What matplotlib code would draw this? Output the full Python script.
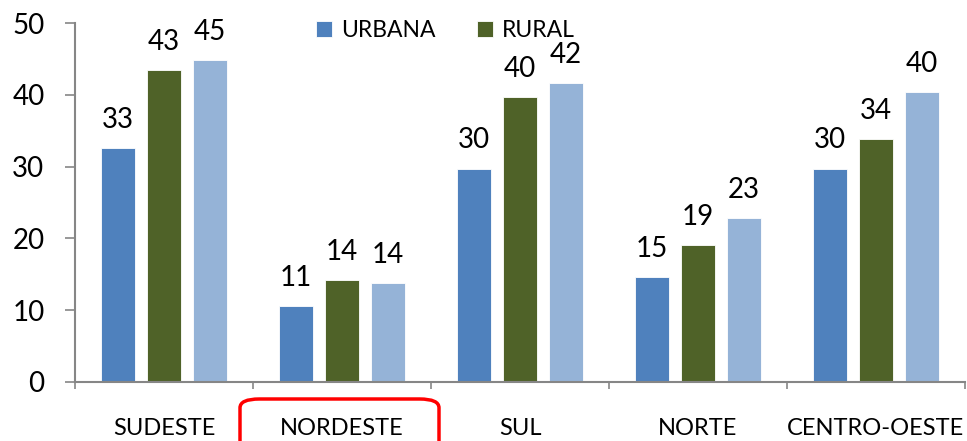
import numpy as np
import matplotlib.pyplot as plt
from matplotlib.patches import FancyBboxPatch

# Dados
regioes = ['SUDESTE', 'NORDESTE', 'SUL', 'NORTE', 'CENTRO-OESTE']
urbana = [32.6, 10.6, 29.7, 14.6, 29.7]
rural = [43.4, 14.2, 39.7, 19.1, 33.8]
total = [44.8, 13.8, 41.6, 22.8, 40.4]

plt.rcParams['font.family'] = ['Lato', 'DejaVu Sans']

fig = plt.figure(figsize=(9.67, 4.41), dpi=100)
ax = fig.add_axes([75/967, 59/441, 890/967, 359/441])

x = np.arange(len(regioes))
w = 0.19
passo = 0.258
series = [(urbana, '#4F81BD', 'URBANA'),
          (rural, '#4F6228', 'RURAL'),
          (total, '#95B3D7', '_TOTAL')]

for i, (vals, cor, nome) in enumerate(series):
    barras = ax.bar(x + (i - 1) * passo, vals, w, color=cor, label=nome,
                    edgecolor='white', linewidth=0.6)
    for b, v in zip(barras, vals):
        ax.annotate(f'{v:.0f}', (b.get_x() + b.get_width()/2, v),
                    xytext=(0, 11), textcoords='offset points',
                    ha='center', va='bottom', fontsize=20)

ax.set_xlim(-0.5, len(regioes) - 0.5)
ax.set_ylim(0, 50)
ax.set_yticks(range(0, 51, 10))
ax.tick_params(axis='y', labelsize=20, length=7, width=1.2, color='#868686', pad=15)

# ticks nas divisas, rotulos no centro
ax.set_xticks(np.arange(-0.5, len(regioes), 1))
ax.set_xticklabels([])
ax.tick_params(axis='x', which='major', length=5, width=1.2, color='#868686')
ax.set_xticks(x, minor=True)
ax.set_xticklabels(regioes, minor=True)
ax.tick_params(axis='x', which='minor', length=0, labelsize=17, pad=26)

for s in ['top', 'right']:
    ax.spines[s].set_visible(False)
for s in ['left', 'bottom']:
    ax.spines[s].set_color('#868686')
    ax.spines[s].set_linewidth(1.5)

ax.legend(loc='center', bbox_to_anchor=(0.416, 0.98), ncol=2, frameon=False,
          fontsize=16.5, handlelength=0.7, handleheight=0.7,
          handletextpad=0.4, columnspacing=1.8)

# destaque do nordeste
caixa = FancyBboxPatch((240/967, -0.05), 199/967, (441 - 399)/441 + 0.05,
                       boxstyle='round,pad=0,rounding_size=0.02',
                       transform=fig.transFigure, fill=False,
                       edgecolor='#FF0000', linewidth=2.5, clip_on=False)
fig.patches.append(caixa)

plt.savefig('out.png', dpi=100)
